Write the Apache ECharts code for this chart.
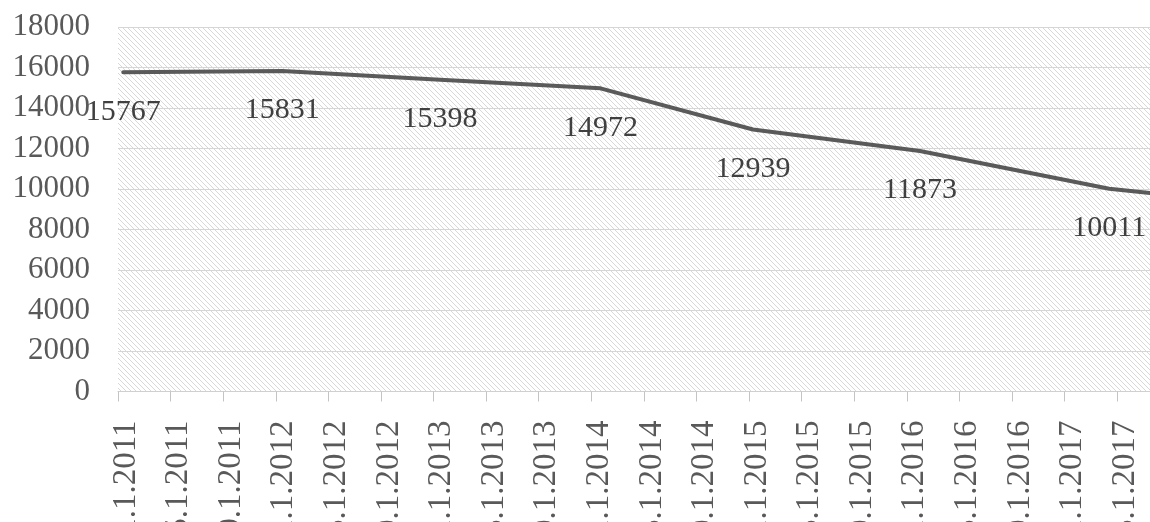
<!DOCTYPE html>
<html><head><meta charset="utf-8">
<script src="https://cdn.jsdelivr.net/npm/echarts@6/dist/echarts.min.js"></script>
<style>html,body{margin:0;padding:0;background:#fff}#c{width:1150px;height:522px}</style>
</head><body><div id="c"></div>
<script>
// Tick labels every 4 months (m.d.yyyy)
const tickLabels = ['1.1.2011','5.1.2011','9.1.2011','1.1.2012','5.1.2012','9.1.2012','1.1.2013','5.1.2013','9.1.2013','1.1.2014','5.1.2014','9.1.2014','1.1.2015','5.1.2015','9.1.2015','1.1.2016','5.1.2016','9.1.2016','1.1.2017','5.1.2017'];
const pointMonths = [0.4, 12.5, 24.5, 36.7, 48.3, 61.0, 75.4, 78.5];
const pointValues = [15767, 15831, 15398, 14972, 12939, 11873, 10011, 9800];
const pointLabelled = [true, true, true, true, true, true, true, false];
const yTicks = [0, 2000, 4000, 6000, 8000, 10000, 12000, 14000, 16000, 18000];

// diagonal hatch pattern
const p = 5;
const cv = document.createElement('canvas');
cv.width = p; cv.height = p;
const g = cv.getContext('2d');
g.fillStyle = '#ffffff'; g.fillRect(0, 0, p, p);
g.strokeStyle = '#d8d8d8'; g.lineWidth = 1;
for (const x0 of [-p, 0, p]) {
  g.beginPath(); g.moveTo(x0, 0); g.lineTo(x0 + p, p); g.stroke();
}

const data = pointMonths.map((m, i) => ({
  value: [m, pointValues[i]],
  label: { show: pointLabelled[i] }
}));

const chart = echarts.init(document.getElementById('c'), null, { renderer: 'canvas' });
chart.setOption({
  animation: false,
  backgroundColor: '#ffffff',
  grid: {
    left: 118, right: 0, top: 27, bottom: 130.5,
    containLabel: false,
    outerBoundsMode: 'none',
    show: true, borderWidth: 0,
    backgroundColor: { image: cv, repeat: 'repeat' }
  },
  xAxis: {
    type: 'value', min: 0, max: 78.5, interval: 4,
    axisLine: { show: true, lineStyle: { color: '#d0d0d0', width: 1 } },
    axisTick: { show: true, length: 10, lineStyle: { color: '#c4c4c4' } },
    splitLine: { show: false },
    axisLabel: {
      rotate: 90, margin: 29,
      fontFamily: 'Liberation Serif', fontSize: 33, color: '#595959',
      verticalAlign: 'top', lineHeight: 16,
      showMaxLabel: false,
      formatter: v => (v % 4 === 0 && tickLabels[v / 4]) ? tickLabels[v / 4] : ''
    }
  },
  yAxis: {
    type: 'value', min: yTicks[0], max: yTicks[yTicks.length - 1], interval: 2000,
    axisLine: { show: false }, axisTick: { show: false },
    splitLine: { show: true, lineStyle: { color: '#d6d6d6', width: 1 } },
    axisLabel: {
      margin: 28, fontFamily: 'Liberation Serif', fontSize: 31, color: '#595959',
      formatter: v => String(v)
    }
  },
  series: [{
    type: 'line',
    data: data,
    showSymbol: true,
    symbol: 'circle',
    symbolSize: 1,
    itemStyle: { color: 'rgba(0,0,0,0)', borderWidth: 0 },
    clip: false,
    lineStyle: { color: '#5a5a5a', width: 4, cap: 'round', join: 'round' },
    label: {
      show: true, position: 'bottom', distance: 24,
      fontFamily: 'Liberation Serif', fontSize: 30, color: '#404040',
      formatter: pr => String(pr.value[1])
    },
    labelLayout: { hideOverlap: false }
  }]
});
</script>
</body></html>
